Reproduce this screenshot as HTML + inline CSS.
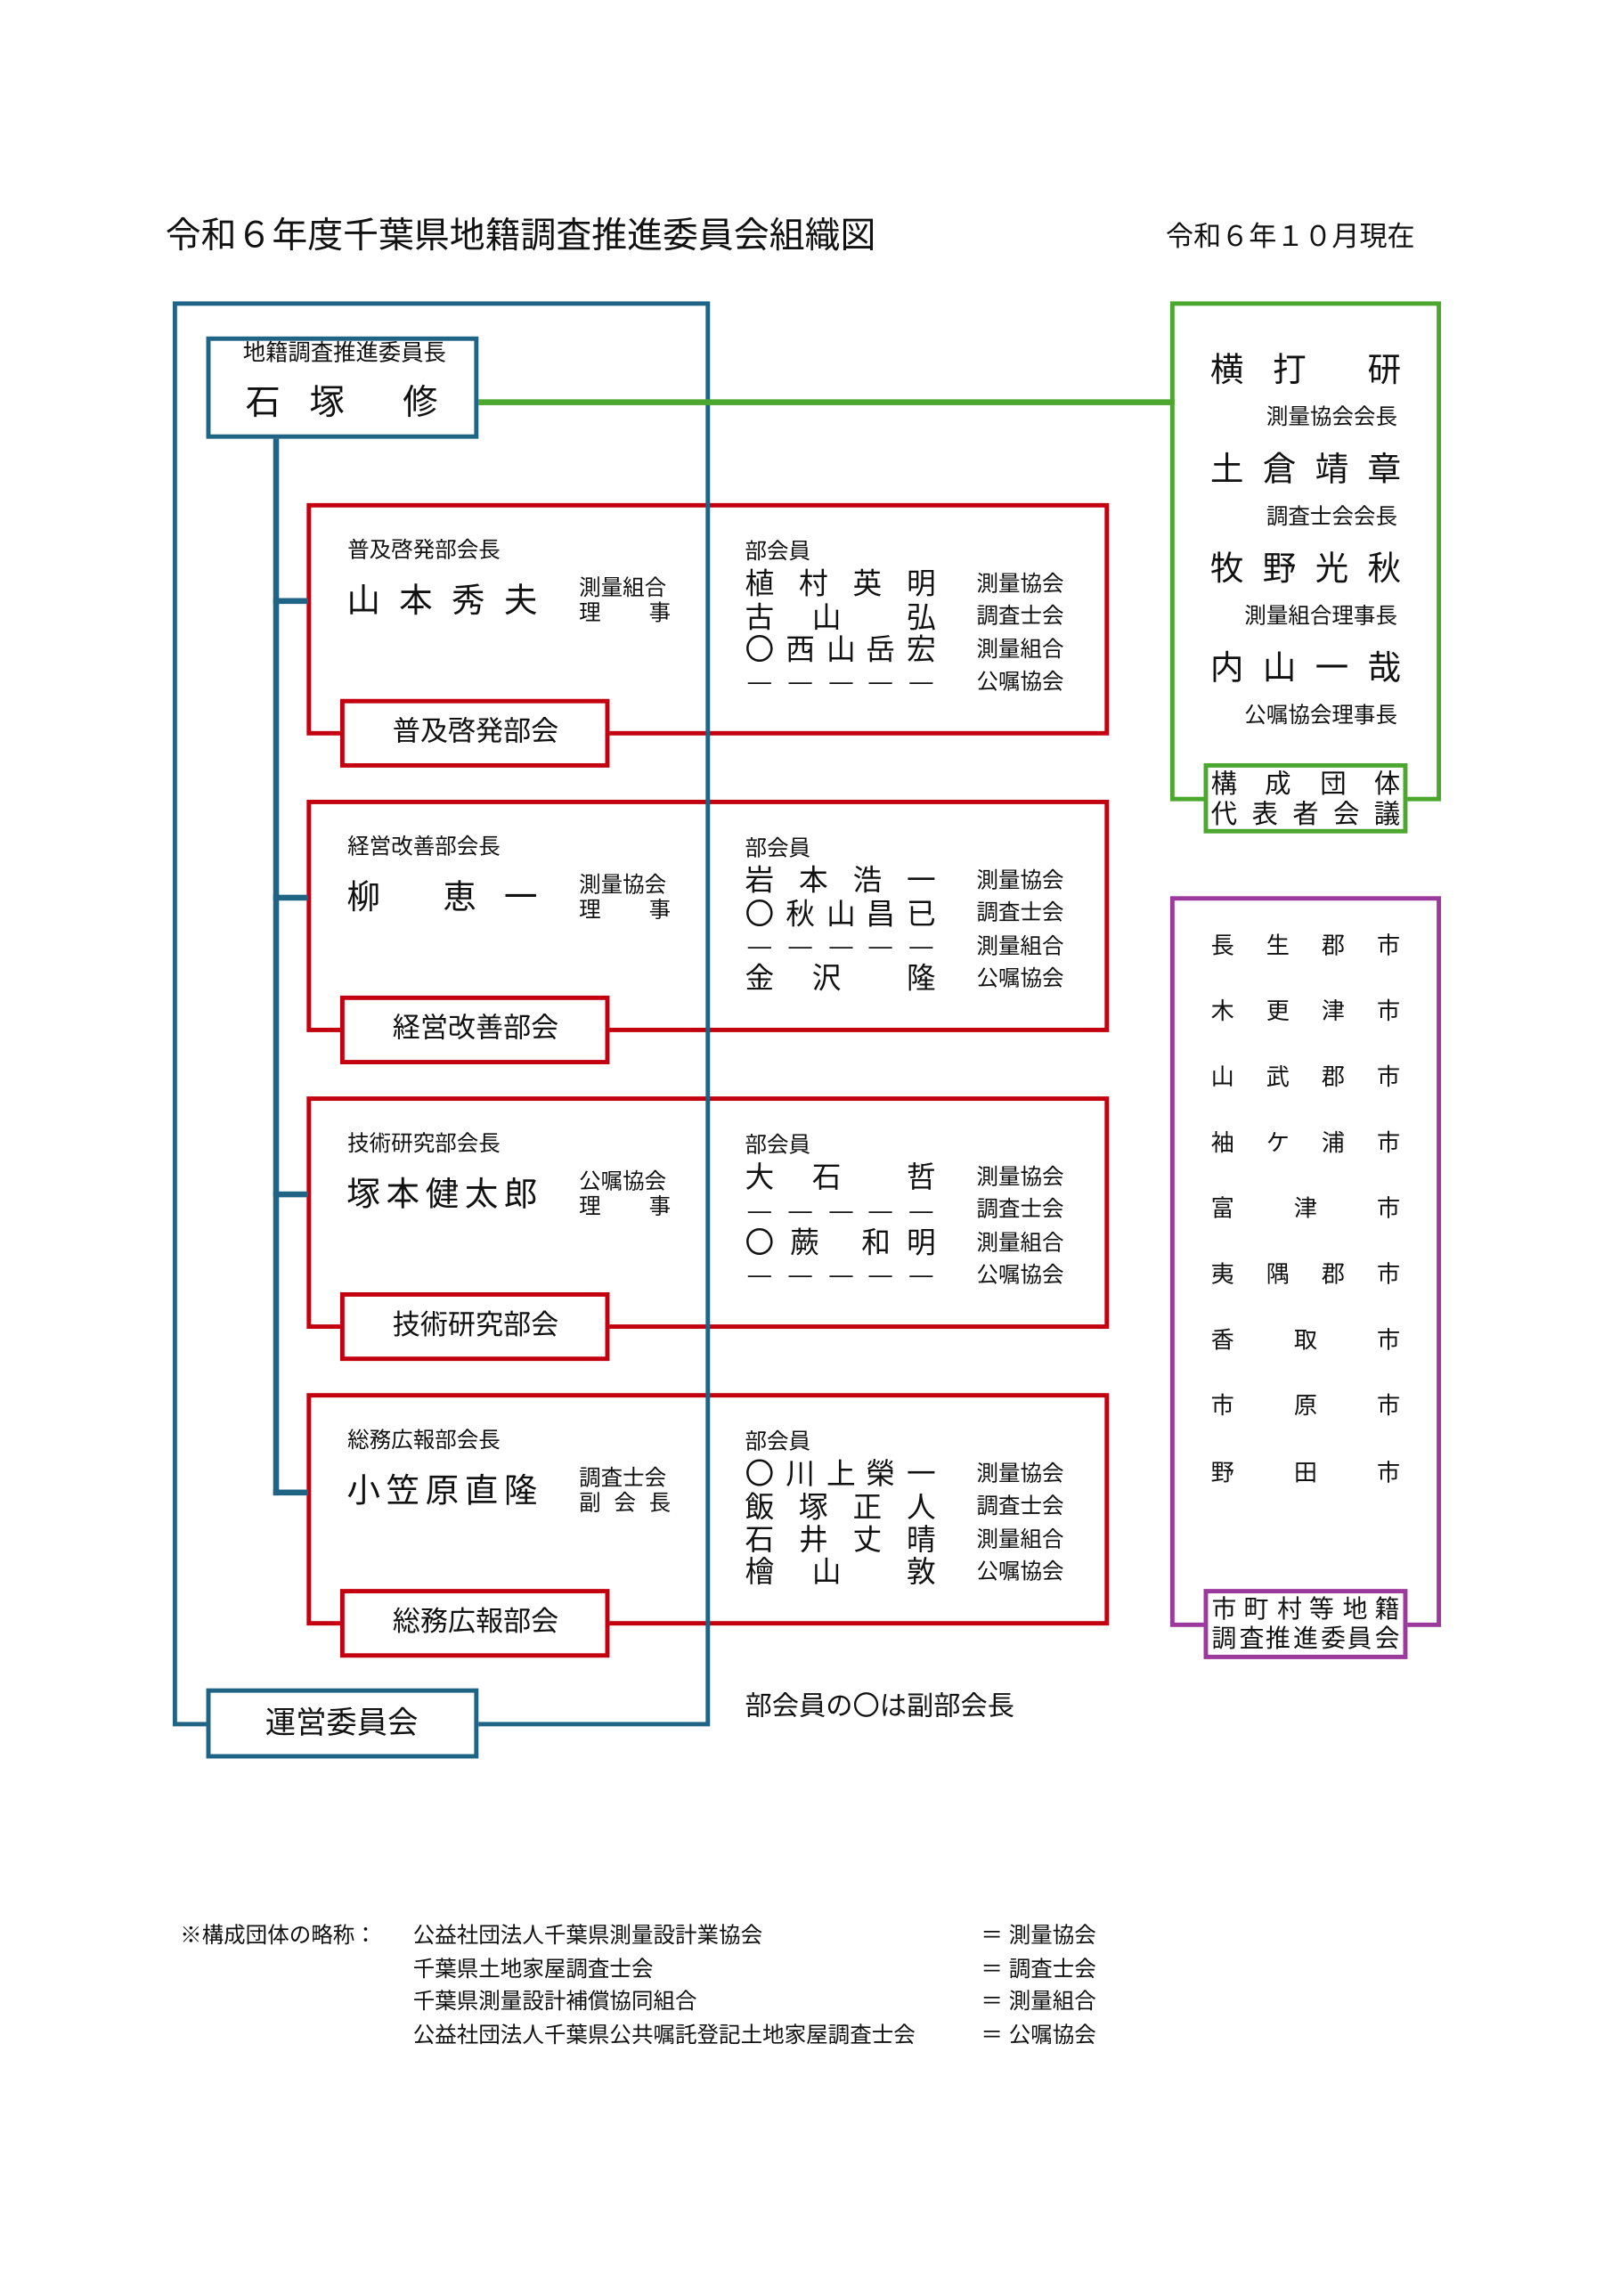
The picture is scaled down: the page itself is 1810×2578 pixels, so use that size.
<!DOCTYPE html>
<html><head><meta charset="utf-8">
<style>
html,body{margin:0;padding:0;background:#fff;}
body{width:1810px;height:2560px;overflow:hidden;position:relative;}
#p{position:absolute;left:0;top:0;width:1110px;height:1570px;transform:translate(1px,2px) scale(1.635,1.641);transform-origin:0 0;font-family:"Liberation Sans","Noto Sans CJK JP",sans-serif;color:#111;}
.a{position:absolute;white-space:nowrap;line-height:1;}
.c{position:absolute;white-space:nowrap;line-height:1;transform:translate(-50%,-50%);}
.box{position:absolute;box-sizing:border-box;}
.blue{border:3.5px solid #1f6385;}
.red{border:3.5px solid #c3000f;}
.green{border:3.5px solid #4ca72f;}
.purple{border:3.5px solid #9b3a9c;}
.ln{position:absolute;}
.sec{position:absolute;left:0;width:1100px;height:200px;}
.s15{font-size:15px;}
</style></head><body><div id="p">

<div class="a" style="left:113px;top:149px;font-size:24.4px;">令和６年度千葉県地籍調査推進委員会組織図</div>
<div class="a" style="left:800px;top:152px;font-size:19px;">令和６年１０月現在</div>

<div class="sec" style="top:343px;"><div class="box red" style="left:210px;top:0;width:551px;height:159px;"></div></div>
<div class="sec" style="top:546px;"><div class="box red" style="left:210px;top:0;width:551px;height:159px;"></div></div>
<div class="sec" style="top:749px;"><div class="box red" style="left:210px;top:0;width:551px;height:159px;"></div></div>
<div class="sec" style="top:952px;"><div class="box red" style="left:210px;top:0;width:551px;height:159px;"></div></div>

<div class="box blue" style="left:118px;top:205px;width:369px;height:975px;"></div>
<div class="ln" style="left:187px;top:297px;width:3.5px;height:725px;background:#1f6385;"></div>
<div class="ln" style="left:187px;top:408px;width:24px;height:3.5px;background:#1f6385;"></div>
<div class="ln" style="left:187px;top:611px;width:24px;height:3.5px;background:#1f6385;"></div>
<div class="ln" style="left:187px;top:814px;width:24px;height:3.5px;background:#1f6385;"></div>
<div class="ln" style="left:187px;top:1018px;width:24px;height:3.5px;background:#1f6385;"></div>

<div class="ln" style="left:326px;top:272px;width:480px;height:3.5px;background:#4ca72f;"></div>

<div class="box blue" style="left:141px;top:229px;width:187px;height:70px;background:#fff;"></div>
<div class="c" style="left:236px;top:241px;font-size:15.5px;">地籍調査推進委員長</div>
<div class="c" style="left:180px;top:275px;font-size:24px;">石</div>
<div class="c" style="left:224px;top:275px;font-size:24px;">塚</div>
<div class="c" style="left:288px;top:275px;font-size:24px;">修</div>

<div class="sec" style="top:343px;">
  <div class="a s15" style="left:238px;top:25px;">普及啓発部会長</div>
  <div class="c" style="left:249px;top:67px;font-size:23px;">山</div>
  <div class="c" style="left:285px;top:67px;font-size:23px;">本</div>
  <div class="c" style="left:321px;top:67px;font-size:23px;">秀</div>
  <div class="c" style="left:357px;top:67px;font-size:23px;">夫</div>
  <div class="a s15" style="left:397px;top:51px;">測量組合</div>
  <div class="a s15" style="left:397px;top:68px;">理</div><div class="a s15" style="left:445px;top:68px;">事</div>
  <div class="a s15" style="left:511px;top:26px;">部会員</div>
  <div class="c" style="left:521px;top:56px;font-size:20px;">植</div><div class="c" style="left:558px;top:56px;font-size:20px;">村</div><div class="c" style="left:595px;top:56px;font-size:20px;">英</div><div class="c" style="left:632px;top:56px;font-size:20px;">明</div>
  <div class="c" style="left:521px;top:79px;font-size:20px;">古</div><div class="c" style="left:567px;top:79px;font-size:20px;">山</div><div class="c" style="left:632px;top:79px;font-size:20px;">弘</div>
  <div class="c" style="left:521px;top:101px;font-size:20px;">〇</div><div class="c" style="left:549px;top:101px;font-size:20px;">西</div><div class="c" style="left:577px;top:101px;font-size:20px;">山</div><div class="c" style="left:604px;top:101px;font-size:20px;">岳</div><div class="c" style="left:632px;top:101px;font-size:20px;">宏</div>
  <div class="c" style="left:521px;top:123px;font-size:16px;">—</div><div class="c" style="left:549px;top:123px;font-size:16px;">—</div><div class="c" style="left:577px;top:123px;font-size:16px;">—</div><div class="c" style="left:604px;top:123px;font-size:16px;">—</div><div class="c" style="left:632px;top:123px;font-size:16px;">—</div>
  <div class="a s15" style="left:670px;top:48px;">測量協会</div>
  <div class="a s15" style="left:670px;top:70px;">調査士会</div>
  <div class="a s15" style="left:670px;top:93px;">測量組合</div>
  <div class="a s15" style="left:670px;top:115px;">公嘱協会</div>
  <div class="box red" style="left:233px;top:134px;width:185px;height:47px;background:#fff;"></div>
  <div class="c" style="left:326px;top:157px;font-size:19px;">普及啓発部会</div>
</div>
<div class="sec" style="top:546px;">
  <div class="a s15" style="left:238px;top:25px;">経営改善部会長</div>
  <div class="c" style="left:249px;top:67px;font-size:23px;">柳</div>
  <div class="c" style="left:315px;top:67px;font-size:23px;">恵</div>
  <div class="c" style="left:357px;top:67px;font-size:23px;">一</div>
  <div class="a s15" style="left:397px;top:51px;">測量協会</div>
  <div class="a s15" style="left:397px;top:68px;">理</div><div class="a s15" style="left:445px;top:68px;">事</div>
  <div class="a s15" style="left:511px;top:26px;">部会員</div>
  <div class="c" style="left:521px;top:56px;font-size:20px;">岩</div><div class="c" style="left:558px;top:56px;font-size:20px;">本</div><div class="c" style="left:595px;top:56px;font-size:20px;">浩</div><div class="c" style="left:632px;top:56px;font-size:20px;">一</div>
  <div class="c" style="left:521px;top:79px;font-size:20px;">〇</div><div class="c" style="left:549px;top:79px;font-size:20px;">秋</div><div class="c" style="left:577px;top:79px;font-size:20px;">山</div><div class="c" style="left:604px;top:79px;font-size:20px;">昌</div><div class="c" style="left:632px;top:79px;font-size:20px;">已</div>
  <div class="c" style="left:521px;top:101px;font-size:16px;">—</div><div class="c" style="left:549px;top:101px;font-size:16px;">—</div><div class="c" style="left:577px;top:101px;font-size:16px;">—</div><div class="c" style="left:604px;top:101px;font-size:16px;">—</div><div class="c" style="left:632px;top:101px;font-size:16px;">—</div>
  <div class="c" style="left:521px;top:123px;font-size:20px;">金</div><div class="c" style="left:567px;top:123px;font-size:20px;">沢</div><div class="c" style="left:632px;top:123px;font-size:20px;">隆</div>
  <div class="a s15" style="left:670px;top:48px;">測量協会</div>
  <div class="a s15" style="left:670px;top:70px;">調査士会</div>
  <div class="a s15" style="left:670px;top:93px;">測量組合</div>
  <div class="a s15" style="left:670px;top:115px;">公嘱協会</div>
  <div class="box red" style="left:233px;top:134px;width:185px;height:47px;background:#fff;"></div>
  <div class="c" style="left:326px;top:157px;font-size:19px;">経営改善部会</div>
</div>
<div class="sec" style="top:749px;">
  <div class="a s15" style="left:238px;top:25px;">技術研究部会長</div>
  <div class="c" style="left:249px;top:67px;font-size:23px;">塚</div>
  <div class="c" style="left:276px;top:67px;font-size:23px;">本</div>
  <div class="c" style="left:303px;top:67px;font-size:23px;">健</div>
  <div class="c" style="left:330px;top:67px;font-size:23px;">太</div>
  <div class="c" style="left:357px;top:67px;font-size:23px;">郎</div>
  <div class="a s15" style="left:397px;top:51px;">公嘱協会</div>
  <div class="a s15" style="left:397px;top:68px;">理</div><div class="a s15" style="left:445px;top:68px;">事</div>
  <div class="a s15" style="left:511px;top:26px;">部会員</div>
  <div class="c" style="left:521px;top:56px;font-size:20px;">大</div><div class="c" style="left:567px;top:56px;font-size:20px;">石</div><div class="c" style="left:632px;top:56px;font-size:20px;">哲</div>
  <div class="c" style="left:521px;top:79px;font-size:16px;">—</div><div class="c" style="left:549px;top:79px;font-size:16px;">—</div><div class="c" style="left:577px;top:79px;font-size:16px;">—</div><div class="c" style="left:604px;top:79px;font-size:16px;">—</div><div class="c" style="left:632px;top:79px;font-size:16px;">—</div>
  <div class="c" style="left:521px;top:101px;font-size:20px;">〇</div><div class="c" style="left:552px;top:101px;font-size:20px;">蕨</div><div class="c" style="left:601px;top:101px;font-size:20px;">和</div><div class="c" style="left:632px;top:101px;font-size:20px;">明</div>
  <div class="c" style="left:521px;top:123px;font-size:16px;">—</div><div class="c" style="left:549px;top:123px;font-size:16px;">—</div><div class="c" style="left:577px;top:123px;font-size:16px;">—</div><div class="c" style="left:604px;top:123px;font-size:16px;">—</div><div class="c" style="left:632px;top:123px;font-size:16px;">—</div>
  <div class="a s15" style="left:670px;top:48px;">測量協会</div>
  <div class="a s15" style="left:670px;top:70px;">調査士会</div>
  <div class="a s15" style="left:670px;top:93px;">測量組合</div>
  <div class="a s15" style="left:670px;top:115px;">公嘱協会</div>
  <div class="box red" style="left:233px;top:134px;width:185px;height:47px;background:#fff;"></div>
  <div class="c" style="left:326px;top:157px;font-size:19px;">技術研究部会</div>
</div>
<div class="sec" style="top:952px;">
  <div class="a s15" style="left:238px;top:25px;">総務広報部会長</div>
  <div class="c" style="left:249px;top:67px;font-size:23px;">小</div>
  <div class="c" style="left:276px;top:67px;font-size:23px;">笠</div>
  <div class="c" style="left:303px;top:67px;font-size:23px;">原</div>
  <div class="c" style="left:330px;top:67px;font-size:23px;">直</div>
  <div class="c" style="left:357px;top:67px;font-size:23px;">隆</div>
  <div class="a s15" style="left:397px;top:51px;">調査士会</div>
  <div class="a s15" style="left:397px;top:68px;">副</div><div class="a s15" style="left:421px;top:68px;">会</div><div class="a s15" style="left:445px;top:68px;">長</div>
  <div class="a s15" style="left:511px;top:26px;">部会員</div>
  <div class="c" style="left:521px;top:56px;font-size:20px;">〇</div><div class="c" style="left:549px;top:56px;font-size:20px;">川</div><div class="c" style="left:577px;top:56px;font-size:20px;">上</div><div class="c" style="left:604px;top:56px;font-size:20px;">榮</div><div class="c" style="left:632px;top:56px;font-size:20px;">一</div>
  <div class="c" style="left:521px;top:79px;font-size:20px;">飯</div><div class="c" style="left:558px;top:79px;font-size:20px;">塚</div><div class="c" style="left:595px;top:79px;font-size:20px;">正</div><div class="c" style="left:632px;top:79px;font-size:20px;">人</div>
  <div class="c" style="left:521px;top:101px;font-size:20px;">石</div><div class="c" style="left:558px;top:101px;font-size:20px;">井</div><div class="c" style="left:595px;top:101px;font-size:20px;">丈</div><div class="c" style="left:632px;top:101px;font-size:20px;">晴</div>
  <div class="c" style="left:521px;top:123px;font-size:20px;">檜</div><div class="c" style="left:567px;top:123px;font-size:20px;">山</div><div class="c" style="left:632px;top:123px;font-size:20px;">敦</div>
  <div class="a s15" style="left:670px;top:48px;">測量協会</div>
  <div class="a s15" style="left:670px;top:70px;">調査士会</div>
  <div class="a s15" style="left:670px;top:93px;">測量組合</div>
  <div class="a s15" style="left:670px;top:115px;">公嘱協会</div>
  <div class="box red" style="left:233px;top:134px;width:185px;height:47px;background:#fff;"></div>
  <div class="c" style="left:326px;top:157px;font-size:19px;">総務広報部会</div>
</div>

<div class="box blue" style="left:141px;top:1154px;width:187px;height:48px;background:#fff;"></div>
<div class="c" style="left:234px;top:1178px;font-size:21px;">運営委員会</div>
<div class="a" style="left:511px;top:1157px;font-size:18.5px;">部会員の〇は副部会長</div>

<div class="box green" style="left:803px;top:205px;width:186px;height:342px;"></div>
<div class="c" style="left:842px;top:252px;font-size:23px;">横</div><div class="c" style="left:885px;top:252px;font-size:23px;">打</div><div class="c" style="left:950px;top:252px;font-size:23px;">研</div>
<div class="a s15" style="left:869px;top:277px;">測量協会会長</div>
<div class="c" style="left:842px;top:320px;font-size:23px;">土</div><div class="c" style="left:878px;top:320px;font-size:23px;">倉</div><div class="c" style="left:914px;top:320px;font-size:23px;">靖</div><div class="c" style="left:950px;top:320px;font-size:23px;">章</div>
<div class="a s15" style="left:869px;top:345px;">調査士会会長</div>
<div class="c" style="left:842px;top:388px;font-size:23px;">牧</div><div class="c" style="left:878px;top:388px;font-size:23px;">野</div><div class="c" style="left:914px;top:388px;font-size:23px;">光</div><div class="c" style="left:950px;top:388px;font-size:23px;">秋</div>
<div class="a s15" style="left:854px;top:413px;">測量組合理事長</div>
<div class="c" style="left:842px;top:456px;font-size:23px;">内</div><div class="c" style="left:878px;top:456px;font-size:23px;">山</div><div class="c" style="left:914px;top:456px;font-size:23px;">一</div><div class="c" style="left:950px;top:456px;font-size:23px;">哉</div>
<div class="a s15" style="left:854px;top:481px;">公嘱協会理事長</div>
<div class="box green" style="left:826px;top:521px;width:140px;height:48px;background:#fff;"></div>
<div class="c" style="left:840px;top:535px;font-size:18px;">構</div><div class="c" style="left:877px;top:535px;font-size:18px;">成</div><div class="c" style="left:915px;top:535px;font-size:18px;">団</div><div class="c" style="left:952px;top:535px;font-size:18px;">体</div>
<div class="c" style="left:840px;top:556px;font-size:18px;">代</div><div class="c" style="left:868px;top:556px;font-size:18px;">表</div><div class="c" style="left:896px;top:556px;font-size:18px;">者</div><div class="c" style="left:924px;top:556px;font-size:18px;">会</div><div class="c" style="left:952px;top:556px;font-size:18px;">議</div>

<div class="box purple" style="left:803px;top:612px;width:186px;height:500px;"></div>
<div style="position:absolute;left:0;top:0;font-size:16px;">
<div class="c" style="left:839px;top:647px;">長</div><div class="c" style="left:877px;top:647px;">生</div><div class="c" style="left:915px;top:647px;">郡</div><div class="c" style="left:953px;top:647px;">市</div>
<div class="c" style="left:839px;top:692px;">木</div><div class="c" style="left:877px;top:692px;">更</div><div class="c" style="left:915px;top:692px;">津</div><div class="c" style="left:953px;top:692px;">市</div>
<div class="c" style="left:839px;top:737px;">山</div><div class="c" style="left:877px;top:737px;">武</div><div class="c" style="left:915px;top:737px;">郡</div><div class="c" style="left:953px;top:737px;">市</div>
<div class="c" style="left:839px;top:782px;">袖</div><div class="c" style="left:877px;top:782px;">ケ</div><div class="c" style="left:915px;top:782px;">浦</div><div class="c" style="left:953px;top:782px;">市</div>
<div class="c" style="left:839px;top:827px;">富</div><div class="c" style="left:896px;top:827px;">津</div><div class="c" style="left:953px;top:827px;">市</div>
<div class="c" style="left:839px;top:872px;">夷</div><div class="c" style="left:877px;top:872px;">隅</div><div class="c" style="left:915px;top:872px;">郡</div><div class="c" style="left:953px;top:872px;">市</div>
<div class="c" style="left:839px;top:917px;">香</div><div class="c" style="left:896px;top:917px;">取</div><div class="c" style="left:953px;top:917px;">市</div>
<div class="c" style="left:839px;top:962px;">市</div><div class="c" style="left:896px;top:962px;">原</div><div class="c" style="left:953px;top:962px;">市</div>
<div class="c" style="left:839px;top:1008px;">野</div><div class="c" style="left:896px;top:1008px;">田</div><div class="c" style="left:953px;top:1008px;">市</div>
</div>
<div class="box purple" style="left:826px;top:1086px;width:140px;height:48px;background:#fff;"></div>
<div style="position:absolute;left:0;top:0;font-size:17px;">
<div class="c" style="left:840px;top:1100px;">市</div><div class="c" style="left:862px;top:1100px;">町</div><div class="c" style="left:885px;top:1100px;">村</div><div class="c" style="left:907px;top:1100px;">等</div><div class="c" style="left:930px;top:1100px;">地</div><div class="c" style="left:952px;top:1100px;">籍</div>
<div class="c" style="left:840px;top:1120px;">調</div><div class="c" style="left:859px;top:1120px;">査</div><div class="c" style="left:877px;top:1120px;">推</div><div class="c" style="left:896px;top:1120px;">進</div><div class="c" style="left:915px;top:1120px;">委</div><div class="c" style="left:933px;top:1120px;">員</div><div class="c" style="left:952px;top:1120px;">会</div>
</div>

<div class="a s15" style="left:123px;top:1316px;">※構成団体の略称：</div>
<div class="a s15" style="left:283px;top:1316px;">公益社団法人千葉県測量設計業協会</div>
<div class="a s15" style="left:283px;top:1339px;">千葉県土地家屋調査士会</div>
<div class="a s15" style="left:283px;top:1361px;">千葉県測量設計補償協同組合</div>
<div class="a s15" style="left:283px;top:1384px;">公益社団法人千葉県公共嘱託登記土地家屋調査士会</div>
<div class="a s15" style="left:673px;top:1316px;">＝ 測量協会</div>
<div class="a s15" style="left:673px;top:1339px;">＝ 調査士会</div>
<div class="a s15" style="left:673px;top:1361px;">＝ 測量組合</div>
<div class="a s15" style="left:673px;top:1384px;">＝ 公嘱協会</div>

</div></body></html>
